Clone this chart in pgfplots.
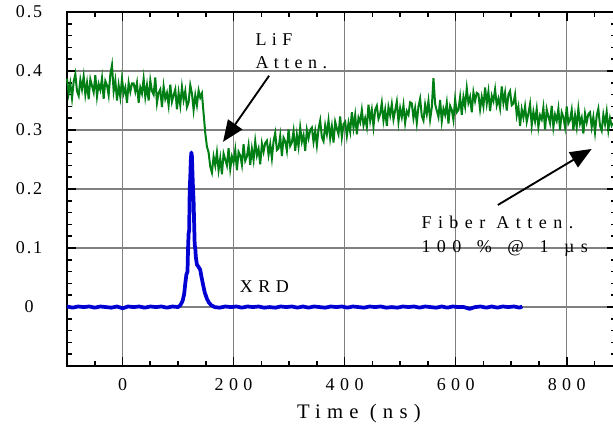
\documentclass[border=0pt]{standalone}
\usepackage{fontspec}
\setmainfont{Liberation Serif}[LetterSpace=30]
\newfontfamily\ticknumfont{Liberation Serif}[LetterSpace=10]
\newfontfamily\notefont{Liberation Serif}[LetterSpace=36]
\usepackage{pgfplots}
\pgfplotsset{compat=1.18}
\usetikzlibrary{arrows.meta}

\definecolor{liFgreen}{RGB}{0,128,20}
\definecolor{xrdblue}{RGB}{0,0,210}

\begin{document}
\begin{tikzpicture}[font=\fontsize{13.5}{16}\selectfont]
\begin{axis}[
    scale only axis,
    width=411.3pt, height=265.5pt,
    xmin=-100, xmax=888,
    ymin=-0.1, ymax=0.5,
    clip=false,
    axis line style={line width=1.5pt},
    xtick={0,200,400,600,800},
    minor xtick={-50,50,100,150,250,300,350,450,500,550,650,700,750,850},
    ytick={-0.1,0,0.1,0.2,0.3,0.4,0.5},
    yticklabels={,0,0.1,0.2,0.3,0.4,0.5},
    minor ytick={-0.08,-0.06,-0.04,-0.02,0.02,0.04,0.06,0.08,0.12,0.14,0.16,0.18,0.22,0.24,0.26,0.28,0.32,0.34,0.36,0.38,0.42,0.44,0.46,0.48},
    tick align=inside,
    major tick length=6.75pt,
    minor tick length=3.75pt,
    tick style={black, line width=1.2pt},
    grid=major,
    major grid style={gray, line width=0.9pt},
    /pgf/number format/assume math mode=true,
    yticklabel style={anchor=center, xshift=-28.5pt, font=\ticknumfont\fontsize{13.5}{16}\selectfont},
    xticklabel style={yshift=-6pt},
    xlabel={Time (ns)},
    xlabel style={at={(axis description cs:0.532,0)}, anchor=base, yshift=-39pt, font=\fontsize{15.5}{18}\selectfont},
]

% LiF attenuation
\addplot[color=liFgreen, line width=1.5pt] coordinates {
(-100,0.387) (-97,0.362) (-94,0.379) (-91,0.354) (-88,0.382) (-85,0.395) (-82,0.366) (-79,0.358)
(-76,0.385) (-73,0.369) (-70,0.391) (-67,0.360) (-64,0.380) (-61,0.352) (-58,0.386) (-55,0.375)
(-52,0.364) (-49,0.393) (-46,0.357) (-43,0.378) (-40,0.368) (-37,0.388) (-34,0.353) (-31,0.383)
(-28,0.376) (-25,0.359) (-22,0.394) (-19,0.410) (-16,0.366) (-13,0.384) (-10,0.350) (-7,0.376)
(-4,0.356) (-1,0.387) (2,0.362) (5,0.372) (8,0.346) (11,0.380) (14,0.365) (17,0.379)
(20,0.379) (23,0.365) (26,0.380) (29,0.346) (32,0.372) (35,0.362) (38,0.387) (41,0.356)
(44,0.376) (47,0.350) (50,0.384) (53,0.366) (56,0.360) (59,0.389) (62,0.346) (65,0.363)
(68,0.369) (71,0.339) (74,0.374) (77,0.353) (80,0.363) (83,0.342) (86,0.377) (89,0.348)
(92,0.359) (95,0.369) (98,0.335) (101,0.363) (104,0.342) (107,0.373) (110,0.351) (113,0.366)
(116,0.339) (119,0.347) (122,0.376) (125,0.362) (128,0.334) (131,0.359) (134,0.342) (137,0.367)
(140,0.355) (143,0.362) (146,0.328) (149,0.295) (152,0.272) (155,0.262) (158,0.238)
(161,0.228) (164,0.255) (167,0.240) (170,0.262) (173,0.232) (176,0.252) (179,0.225) (182,0.260)
(185,0.250) (188,0.240) (191,0.269) (194,0.234) (197,0.255) (200,0.245) (203,0.266) (206,0.232)
(209,0.263) (212,0.257) (215,0.241) (218,0.276) (221,0.248) (224,0.255) (227,0.274) (230,0.241)
(233,0.268) (236,0.249) (239,0.281) (242,0.257) (245,0.268) (248,0.242) (251,0.277) (254,0.263)
(257,0.278) (260,0.282) (263,0.258) (266,0.276) (269,0.252) (272,0.281) (275,0.295) (278,0.266)
(281,0.269) (284,0.290) (287,0.256) (290,0.287) (293,0.281) (296,0.265) (299,0.301) (302,0.273)
(305,0.279) (308,0.298) (311,0.265) (314,0.292) (317,0.272) (320,0.304) (323,0.280) (326,0.291)
(329,0.265) (332,0.300) (335,0.286) (338,0.300) (341,0.304) (344,0.280) (347,0.298) (350,0.274)
(353,0.302) (356,0.316) (359,0.288) (362,0.281) (365,0.308) (368,0.293) (371,0.316) (374,0.286)
(377,0.306) (380,0.279) (383,0.314) (386,0.303) (389,0.293) (392,0.323) (395,0.288) (398,0.310)
(401,0.314) (404,0.290) (407,0.312) (410,0.297) (413,0.330) (416,0.304) (419,0.325) (422,0.293)
(425,0.321) (428,0.313) (431,0.334) (434,0.308) (437,0.320) (440,0.305) (443,0.343) (446,0.316)
(449,0.334) (452,0.306) (455,0.334) (458,0.341) (461,0.319) (464,0.327) (467,0.346) (470,0.316)
(473,0.334) (476,0.307) (479,0.339) (482,0.325) (485,0.344) (488,0.318) (491,0.333) (494,0.348)
(497,0.314) (500,0.337) (503,0.322) (506,0.342) (509,0.312) (512,0.332) (515,0.326) (518,0.347)
(521,0.345) (524,0.320) (527,0.337) (530,0.312) (533,0.340) (536,0.353) (539,0.324) (542,0.316)
(545,0.343) (548,0.327) (551,0.349) (554,0.318) (557,0.338) (560,0.388) (563,0.344) (566,0.333)
(569,0.322) (572,0.351) (575,0.315) (578,0.336) (581,0.326) (584,0.346) (587,0.311) (590,0.341)
(593,0.334) (596,0.317) (599,0.352) (602,0.330) (605,0.334) (608,0.356) (611,0.326) (614,0.356)
(617,0.340) (620,0.371) (623,0.346) (626,0.356) (629,0.330) (632,0.364) (635,0.349) (638,0.363)
(641,0.361) (644,0.335) (647,0.356) (650,0.340) (653,0.372) (656,0.345) (659,0.365) (662,0.332)
(665,0.358) (668,0.349) (671,0.369) (674,0.342) (677,0.353) (680,0.337) (683,0.374) (686,0.346)
(689,0.363) (692,0.333) (695,0.360) (698,0.366) (701,0.342) (704,0.345) (707,0.360) (710,0.325)
(713,0.339) (716,0.307) (719,0.335) (722,0.321) (725,0.340) (728,0.314) (731,0.328) (734,0.344)
(737,0.308) (740,0.331) (743,0.315) (746,0.336) (749,0.305) (752,0.325) (755,0.318) (758,0.338)
(761,0.301) (764,0.335) (767,0.323) (770,0.312) (773,0.341) (776,0.305) (779,0.326) (782,0.316)
(785,0.336) (788,0.300) (791,0.330) (794,0.322) (797,0.305) (800,0.340) (803,0.311) (806,0.317)
(809,0.334) (812,0.300) (815,0.325) (818,0.305) (821,0.336) (824,0.311) (827,0.321) (830,0.294)
(833,0.328) (836,0.313) (839,0.327) (842,0.330) (845,0.305) (848,0.322) (851,0.296) (854,0.324)
(857,0.336) (860,0.307) (863,0.299) (866,0.326) (869,0.310) (872,0.331) (875,0.300) (878,0.320)
(881,0.308) (883,0.312)
};

% XRD signal
\addplot[color=xrdblue, line width=2.8pt, line join=round] coordinates {
(-100,0.001) (-90,-0.001) (-80,0.001) (-70,0.000) (-60,0.001) (-50,-0.001) (-40,0.001) (-30,0.000)
(-20,-0.001) (-10,0.001) (0,-0.002) (10,0.001) (20,0.000) (30,0.001) (40,-0.001) (50,0.001)
(60,0.000) (70,0.001) (80,-0.001) (90,0.001) (100,0.000) (104,0.003) (108,0.010) (111,0.022)
(113,0.040) (115,0.055) (117,0.060) (118,0.100) (119,0.125) (120,0.130) (121,0.200) (122,0.220)
(123,0.250) (124,0.262) (125,0.255) (126,0.225) (127,0.200) (128,0.180) (129,0.140) (130,0.105)
(131,0.100) (132,0.085) (134,0.072) (137,0.068) (140,0.063) (142,0.052) (145,0.038) (148,0.025)
(152,0.014) (156,0.007) (160,0.003) (166,0.000) (175,-0.001) (185,0.001) (195,0.000) (205,0.001)
(215,-0.001) (225,0.001) (235,0.000) (245,0.001) (255,-0.001) (265,0.000) (275,-0.001) (285,0.001)
(295,0.000) (305,0.001) (315,-0.001) (325,0.001) (335,-0.001) (345,0.001) (355,0.000) (365,-0.001)
(375,0.001) (385,0.000) (395,0.001) (405,-0.001) (415,0.001) (425,0.000) (435,-0.001) (445,0.001)
(455,0.000) (465,0.001) (475,-0.001) (485,0.000) (495,-0.001) (505,0.001) (515,0.000) (525,0.001)
(535,-0.001) (545,0.001) (555,0.000) (565,-0.001) (575,0.001) (585,-0.001) (595,0.001) (605,0.000)
(615,0.000) (625,-0.003) (635,0.000) (645,0.001) (655,-0.001) (665,0.001) (675,-0.001) (685,0.001)
(695,0.000) (705,0.001) (715,-0.001) (720,0.001)
};

\node[anchor=base west] at (axis cs:231,0.444) {LiF};
\node[anchor=base west] at (axis cs:231,0.405) {Atten.};
\draw[line width=1.4pt, -{Triangle[length=16pt,width=13pt]}] (axis cs:264,0.392) -- (axis cs:181,0.280);

\node[anchor=base west, font=\notefont\fontsize{13.5}{16}\selectfont] at (axis cs:530,0.134) {Fiber Atten.};
\node[anchor=base west, font=\notefont\fontsize{13.5}{16}\selectfont] at (axis cs:530,0.093) {100\hspace{0.25em} \%\hspace{0.25em} @\hspace{0.25em} 1\hspace{0.25em} µs};
\draw[line width=1.4pt, -{Triangle[length=16pt,width=13pt]}] (axis cs:676,0.173) -- (axis cs:845,0.268);

\node[anchor=base west] at (axis cs:203,0.025) {XRD};

\coordinate (bl) at (axis cs:-100,-0.1);
\coordinate (tr) at (axis cs:883.4,0.5);
\end{axis}
\pgfresetboundingbox
\useasboundingbox ([xshift=-50.25pt,yshift=-43.5pt]bl) rectangle ([yshift=9pt]tr);
\end{tikzpicture}
\end{document}
